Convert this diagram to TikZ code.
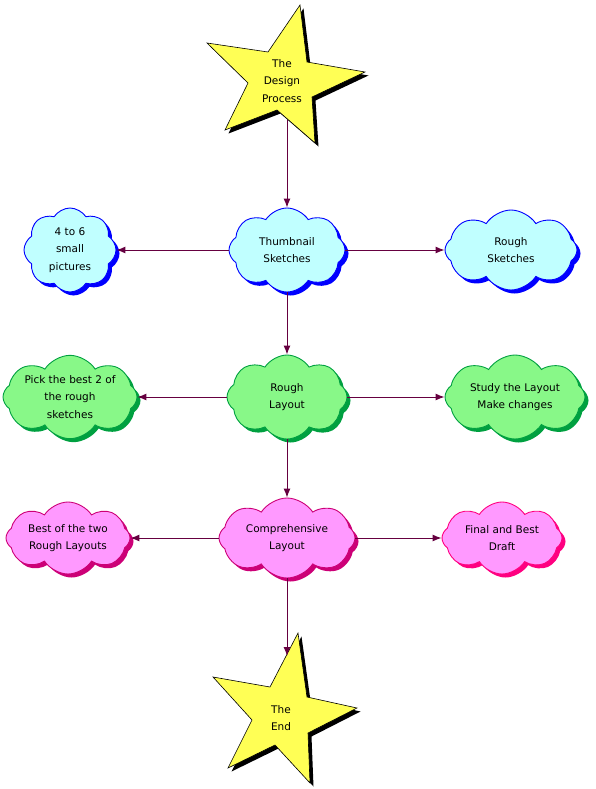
\documentclass[tikz,border=0pt]{standalone}
\usepackage{fontspec}
\setmainfont{DejaVu Sans}
\usetikzlibrary{shapes.symbols,shadows,arrows.meta}
\definecolor{cyanfill}{HTML}{C0FFFF}
\definecolor{cyanline}{HTML}{0000FF}
\definecolor{greenfill}{HTML}{88F888}
\definecolor{greenline}{HTML}{00A040}
\definecolor{pinkfill}{HTML}{FF99FF}
\definecolor{pinkline}{HTML}{CC0077}
\definecolor{hotpink}{HTML}{FF0080}
\definecolor{arrowcol}{HTML}{660040}
\definecolor{staryellow}{HTML}{FFFF55}
\tikzset{
  cloudbox/.style={cloud, cloud puffs=8, cloud puff arc=115, cloud ignores aspect,
    inner sep=0pt, align=center, font=\fontsize{10.5}{17.5}\selectfont, line width=0.9pt},
  bluecloud/.style={cloudbox, draw=cyanline, fill=cyanfill,
    drop shadow={shadow xshift=3.5pt, shadow yshift=-3.5pt, fill=cyanline, opacity=1}},
  greencloud/.style={cloudbox, draw=greenline, fill=greenfill,
    drop shadow={shadow xshift=3.5pt, shadow yshift=-3.5pt, fill=greenline, opacity=1}},
  pinkcloud/.style={cloudbox, draw=pinkline, fill=pinkfill,
    drop shadow={shadow xshift=3.5pt, shadow yshift=-3.5pt, fill=pinkline, opacity=1}},
  hotcloud/.style={cloudbox, draw=hotpink, fill=pinkfill,
    drop shadow={shadow xshift=3.5pt, shadow yshift=-3.5pt, fill=hotpink, opacity=1}},
  arr/.style={draw=arrowcol, line width=1pt, -{Latex[length=9pt,width=7pt]}},
  startext/.style={align=center, font=\fontsize{10.5}{17.5}\selectfont, inner sep=0pt},
  starshape/.style={fill=staryellow, draw=black, line width=0.6pt, line join=miter},
  starshadow/.style={fill=black}
}
\begin{document}
\begin{tikzpicture}[x=1pt,y=-1pt]
\useasboundingbox (0,0) rectangle (595,789);
% Star 1
\fill[starshadow, shift={(3.5pt,-3.5pt)}] (300,5) -- (307,62) -- (365,72) -- (312,97) -- (315,143) -- (277,110) -- (225,130) -- (248,83) -- (207,43) -- (268,52) -- cycle;
\draw[starshape] (300,5) -- (307,62) -- (365,72) -- (312,97) -- (315,143) -- (277,110) -- (225,130) -- (248,83) -- (207,43) -- (268,52) -- cycle;
\node[startext] (s1) at (282,81) {The\\Design\\Process};
\coordinate (s1b) at (287,120);
% Star 2
\fill[starshadow, shift={(3.5pt,-3.5pt)}] (298,633) -- (307,697) -- (357,708) -- (308,733) -- (310,783) -- (275,745) -- (228,768) -- (252,720) -- (213,677) -- (270,687) -- cycle;
\draw[starshape] (298,633) -- (307,697) -- (357,708) -- (308,733) -- (310,783) -- (275,745) -- (228,768) -- (252,720) -- (213,677) -- (270,687) -- cycle;
\node[startext] (s2) at (281,718) {The\\End};
\coordinate (s2t) at (287,656);
% Row 1
\node[bluecloud, minimum width=92pt, minimum height=84pt] (A) at (70,250) {4 to 6\\small\\pictures};
\node[bluecloud, minimum width=116pt, minimum height=84pt] (B) at (287,250) {Thumbnail\\Sketches};
\node[bluecloud, minimum width=132pt, minimum height=80pt] (C) at (511,250) {Rough\\Sketches};
% Row 2
\node[greencloud, minimum width=134pt, minimum height=82pt] (D) at (70,397) {Pick the best 2 of\\the rough\\sketches};
\node[greencloud, minimum width=120pt, minimum height=84pt] (E) at (287,397) {Rough\\Layout};
\node[greencloud, minimum width=140pt, minimum height=84pt] (F) at (515,397) {Study the Layout\\Make changes};
% Row 3
\node[pinkcloud, minimum width=124pt, minimum height=72pt] (G) at (68,538) {Best of the two\\Rough Layouts};
\node[pinkcloud, minimum width=136pt, minimum height=80pt] (H) at (287,538) {Comprehensive\\Layout};
\node[hotcloud, minimum width=120pt, minimum height=72pt] (I) at (502,538) {Final and Best\\Draft};
% Connectors
\draw[arr] (s1b) -- (B.north);
\draw[arr] (B.west) -- (A.east);
\draw[arr] (B.east) -- (C.west);
\draw[arr] (B.south) -- (E.north);
\draw[arr] (E.west) -- (D.east);
\draw[arr] (E.east) -- (F.west);
\draw[arr] (E.south) -- (H.north);
\draw[arr] (H.west) -- (G.east);
\draw[arr] (H.east) -- (I.west);
\draw[arr] (H.south) -- (s2t);
\end{tikzpicture}
\end{document}
